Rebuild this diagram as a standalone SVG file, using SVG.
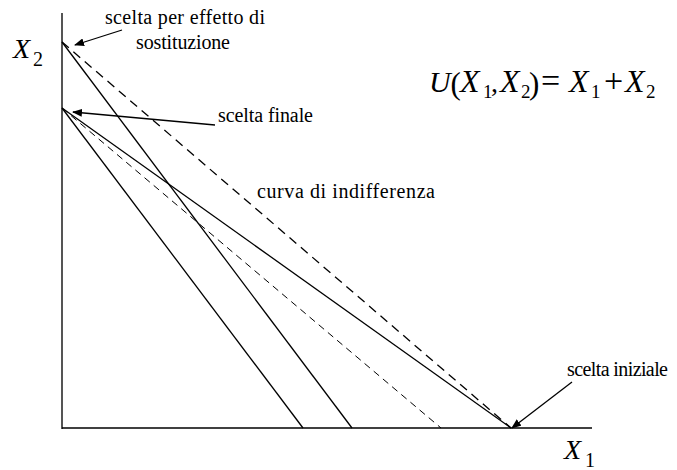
<svg xmlns="http://www.w3.org/2000/svg" width="677" height="470" viewBox="0 0 677 470">
<style>
.t{font-family:"Liberation Serif","Times New Roman",serif;font-size:20px;fill:#000}
.m{font-family:"Liberation Serif","Times New Roman",serif;font-size:28px;fill:#000}
.f{font-family:"Liberation Serif","Times New Roman",serif;font-size:32px;fill:#000}
.i{font-style:italic}
.s{font-size:20px;font-style:normal}
.sf{font-size:19px;font-style:normal}
.p{font-size:31px;font-style:normal}
.o{font-size:34px}
.ax{stroke:#555;stroke-width:2;fill:none}
.ln{stroke:#000;stroke-width:1.3;fill:none}
.d{stroke-dasharray:9 6}
.dt{stroke-width:1;stroke-dasharray:7 5}
.ar{stroke:#000;stroke-width:1.3;fill:none}
</style>
<defs>
<marker id="ah" markerWidth="10" markerHeight="8" refX="9" refY="4" orient="auto" markerUnits="userSpaceOnUse">
<path d="M0,0 L10,4 L0,8 Z" fill="#000"/>
</marker>
</defs>
<g id="axes">
<line class="ax" x1="62" y1="13" x2="62" y2="429"/>
<line class="ln" x1="62" y1="428" x2="592" y2="428" style="stroke-width:1.6"/>
</g>
<g id="connectors">
<line class="ln d" x1="62" y1="42" x2="511" y2="428"/>
<line class="ln" x1="62" y1="42" x2="352" y2="428"/>
<line class="ln" x1="62" y1="108" x2="511" y2="428"/>
<line class="ln" x1="62" y1="108" x2="303" y2="428"/>
<line class="ln dt" x1="62" y1="108" x2="441" y2="428"/>
<line class="ar" x1="122" y1="30" x2="75" y2="45" marker-end="url(#ah)"/>
<line class="ar" x1="215" y1="125" x2="73" y2="112" marker-end="url(#ah)"/>
<line class="ar" x1="572" y1="382" x2="512" y2="428" marker-end="url(#ah)"/>
</g>
<g id="label-x2"><text class="m i" x="13" y="58">X<tspan class="s" x="33" y="66">2</tspan></text></g>
<g id="label-x1"><text class="m i" x="564" y="459">X<tspan class="s" x="585" y="467">1</tspan></text></g>
<g id="node-sostituzione">
<text class="t" x="105" y="24" textLength="160" lengthAdjust="spacing">scelta per effetto di</text>
<text class="t" x="136" y="49" textLength="94" lengthAdjust="spacing">sostituzione</text>
</g>
<g id="node-finale"><text class="t" x="218" y="122" textLength="95" lengthAdjust="spacing">scelta finale</text></g>
<g id="node-indifferenza"><text class="t" x="257" y="198" textLength="178" lengthAdjust="spacing">curva di indifferenza</text></g>
<g id="node-iniziale"><text class="t" x="567" y="376" textLength="101" lengthAdjust="spacing">scelta iniziale</text></g>
<g id="formula">
<text class="f" y="92"><tspan class="i" x="429" style="font-size:30px">U</tspan><tspan class="p" x="450.5" y="94">(</tspan><tspan class="i" x="460" y="92">X</tspan><tspan class="sf" x="483" y="98">1</tspan><tspan class="sf" x="491" y="92" style="font-size:28px">,</tspan><tspan class="i" x="500">X</tspan><tspan class="sf" x="521" y="98">2</tspan><tspan class="p" x="529" y="94">)</tspan><tspan class="o" x="541" y="92">=</tspan><tspan class="i" x="569">X</tspan><tspan class="sf" x="591" y="98">1</tspan><tspan class="o" x="604" y="92">+</tspan><tspan class="i" x="625">X</tspan><tspan class="sf" x="646" y="98">2</tspan></text>
</g>
</svg>
